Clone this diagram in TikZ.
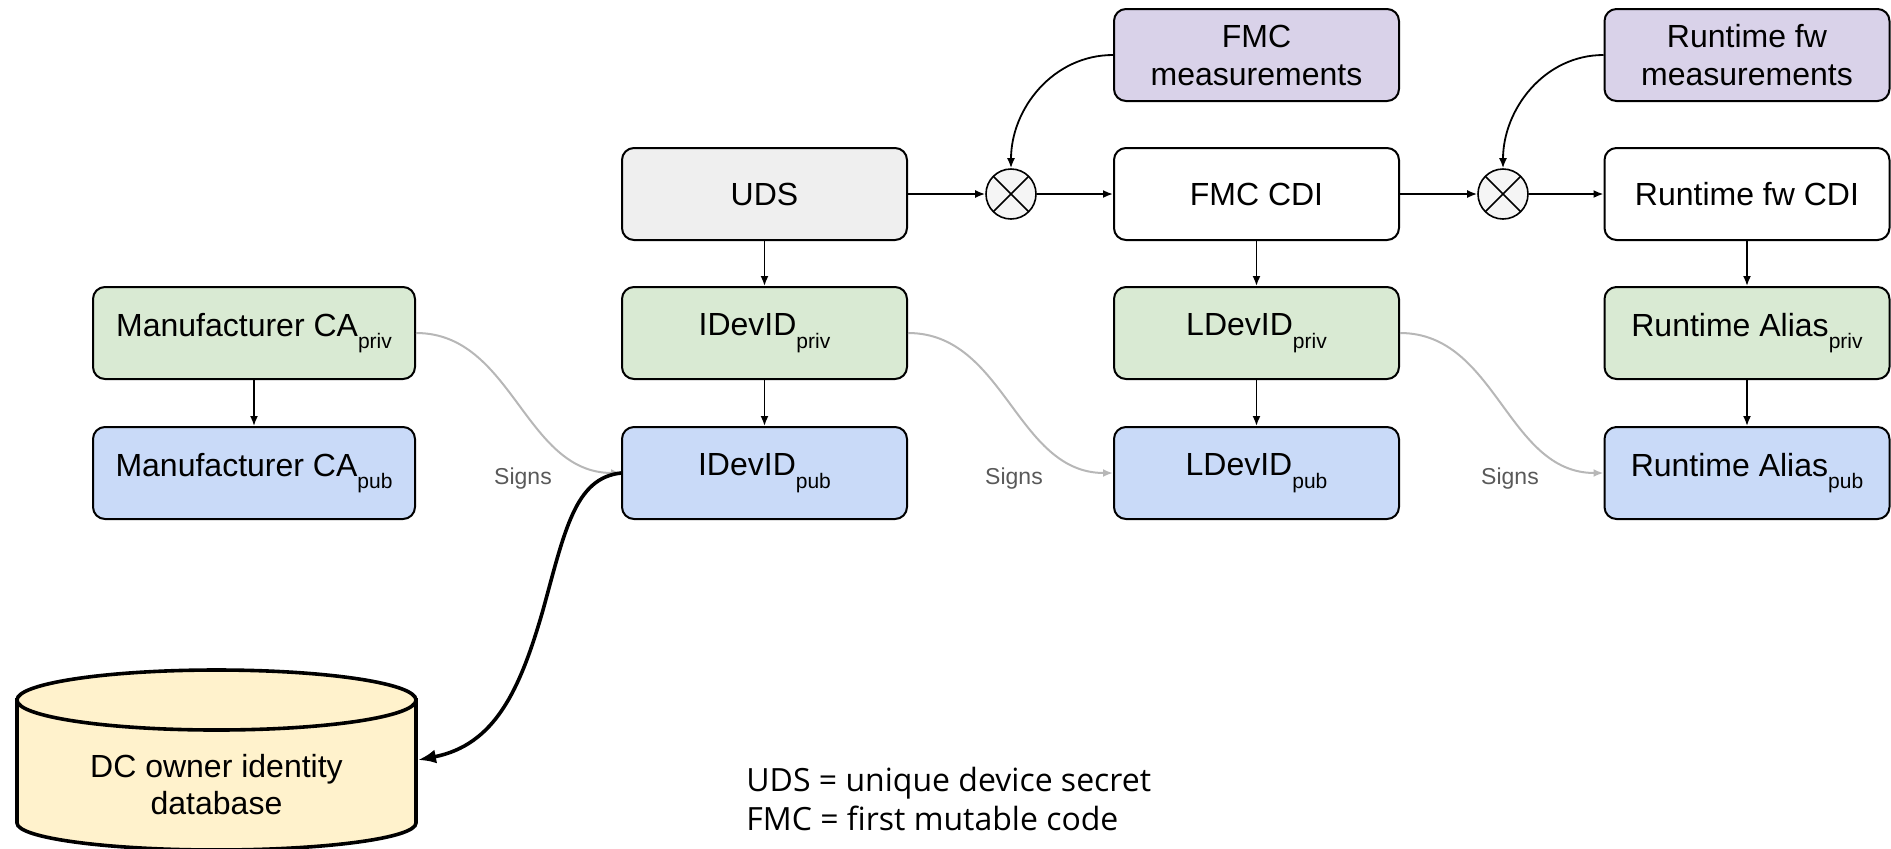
\documentclass[tikz,border=0pt]{standalone}
\usepackage{fontspec}
\setmainfont{Liberation Sans}
\newfontfamily\legendfont{Open Sans}
\usetikzlibrary{arrows.meta}
\definecolor{grn}{HTML}{D9EAD3}
\definecolor{blu}{HTML}{C9DAF8}
\definecolor{purp}{HTML}{D9D2E9}
\definecolor{udsc}{HTML}{EFEFEF}
\definecolor{dbc}{HTML}{FFF2CC}
\definecolor{signc}{HTML}{B7B7B7}
\definecolor{signtxt}{HTML}{595959}
\newcommand{\lowtxt}[1]{\raisebox{-0.75ex}{\fontsize{10.5}{12}\selectfont #1}}
\begin{document}
\begin{tikzpicture}[x=0.5pt,y=-0.5pt,
  box/.style={draw, line width=1pt, rounded corners=6pt, minimum width=142.5pt, minimum height=46pt,
    inner sep=0pt, align=center, font=\fontsize{16}{19}\selectfont},
  widebox/.style={box, minimum width=161pt},
  xcirc/.style={circle, draw, line width=0.8pt, fill=udsc!60, minimum size=25pt, inner sep=0pt,
    path picture={\draw[line width=0.8pt] (path picture bounding box.north west) -- (path picture bounding box.south east)
      (path picture bounding box.north east) -- (path picture bounding box.south west);}},
  arr/.style={draw, line width=0.9pt, -{Latex[length=5pt,width=4pt]}},
  signarr/.style={draw=signc, line width=1pt, -{Latex[length=5pt,width=4pt]}},
  signlbl/.style={text=signtxt, font=\fontsize{11.5}{13}\selectfont, inner sep=0pt},
  dbarr/.style={draw, line width=1.8pt, -{Latex[length=9pt,width=7pt]}},
  legend/.style={align=left, inner sep=0pt, font=\legendfont\fontsize{16}{19.5}\selectfont}
]
\useasboundingbox (0,0) rectangle (1891,848);

% top row
\node[box, fill=udsc] (uds) at (764.5,194) {UDS};
\node[xcirc] (x1) at (1011,194) {};
\node[box, fill=white] (fcdi) at (1256.5,194) {FMC CDI};
\node[xcirc] (x2) at (1503,194) {};
\node[box, fill=white] (rcdi) at (1747,194) {Runtime fw CDI};
\node[box, fill=purp] (fmeas) at (1256.5,55) {FMC\\measurements};
\node[box, fill=purp] (rmeas) at (1747,55) {Runtime fw\\measurements};

% priv row
\node[widebox, fill=grn] (mpriv) at (254,333) {Manufacturer CA\lowtxt{priv}};
\node[box, fill=grn] (ipriv) at (764.5,333) {IDevID\lowtxt{priv}};
\node[box, fill=grn] (lpriv) at (1256.5,333) {LDevID\lowtxt{priv}};
\node[box, fill=grn] (rpriv) at (1747,333) {Runtime Alias\lowtxt{priv}};

% pub row
\node[widebox, fill=blu] (mpub) at (254,473) {Manufacturer CA\lowtxt{pub}};
\node[box, fill=blu] (ipub) at (764.5,473) {IDevID\lowtxt{pub}};
\node[box, fill=blu] (lpub) at (1256.5,473) {LDevID\lowtxt{pub}};
\node[box, fill=blu] (rpub) at (1747,473) {Runtime Alias\lowtxt{pub}};

% signs labels
\node[signlbl] (s1) at (523,479) {Signs};
\node[signlbl] (s2) at (1014,479) {Signs};
\node[signlbl] (s3) at (1510,479) {Signs};

% database cylinder
\path[draw, fill=dbc, line width=1.8pt] (17,700) -- (17,823)
  arc[start angle=180, end angle=360, x radius=99.75pt, y radius=13.5pt] -- (416,700) -- cycle;
\path[draw, fill=dbc, line width=1.8pt] (216.5,700) ellipse[x radius=99.75pt, y radius=15pt];
\node[align=center, inner sep=0pt, font=\fontsize{16}{18.5}\selectfont] (db) at (216.5,785) {DC owner identity\\database};
\coordinate (dbin) at (418,760);

% legend
\node[legend, anchor=west] (leg) at (746,799) {UDS = unique device secret\\FMC = first mutable code};

% connectors
\draw[arr] (uds) -- (x1);
\draw[arr] (x1) -- (fcdi);
\draw[arr] (fcdi) -- (x2);
\draw[arr] (x2) -- (rcdi);
\draw[arr] (fmeas.west) to[out=180, in=90] (x1.north);
\draw[arr] (rmeas.west) to[out=180, in=90] (x2.north);
\draw[arr] (uds) -- (ipriv);
\draw[arr] (fcdi) -- (lpriv);
\draw[arr] (rcdi) -- (rpriv);
\draw[arr] (mpriv) -- (mpub);
\draw[arr] (ipriv) -- (ipub);
\draw[arr] (lpriv) -- (lpub);
\draw[arr] (rpriv) -- (rpub);
\draw[signarr] (mpriv.east) to[out=0, in=180] (ipub.west);
\draw[signarr] (ipriv.east) to[out=0, in=180] (lpub.west);
\draw[signarr] (lpriv.east) to[out=0, in=180] (rpub.west);
\draw[dbarr] (ipub.west) .. controls (575,478) and (565,530) .. (543,610)
  .. controls (520,690) and (495,745) .. (dbin);
\end{tikzpicture}
\end{document}
